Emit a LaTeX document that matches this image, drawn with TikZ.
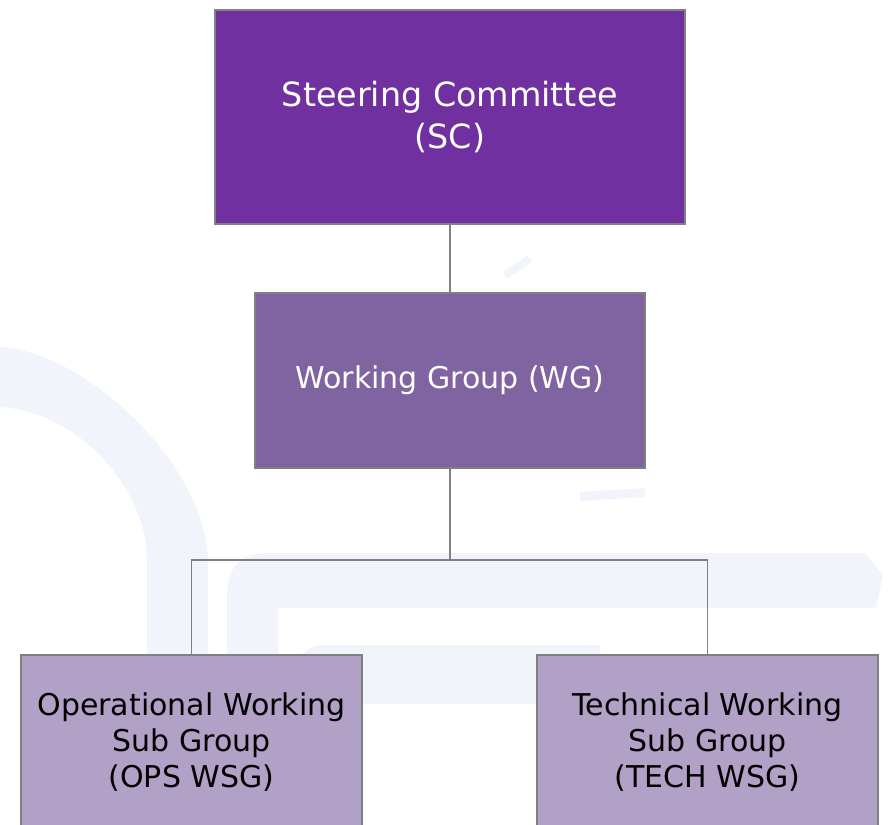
\documentclass[tikz,border=0pt]{standalone}
\usepackage{fontspec}
\setmainfont{DejaVu Sans}
\definecolor{scpurple}{HTML}{7030A0}
\definecolor{wgpurple}{HTML}{8064A2}
\definecolor{wsglilac}{HTML}{B2A1C7}
\definecolor{edgegray}{HTML}{808080}
\definecolor{markwash}{RGB}{242,244,252}
\begin{document}
\begin{tikzpicture}[x=0.75pt, y=-0.75pt,
  orgbox/.style={draw=edgegray, line width=1.2pt, align=center, inner sep=0pt},
  toplevel/.style={orgbox, fill=scpurple, text=white, minimum width=352.5pt, minimum height=160.5pt, font=\fontsize{25}{31.5}\selectfont},
  midlevel/.style={orgbox, fill=wgpurple, text=white, minimum width=292.5pt, minimum height=131.25pt, font=\fontsize{22.5}{27}\selectfont},
  sublevel/.style={orgbox, fill=wsglilac, text=black, minimum width=255.75pt, minimum height=131.25pt, font=\fontsize{22.5}{27}\selectfont},
  link/.style={draw=edgegray, line width=1.2pt}]
\useasboundingbox (0,0) rectangle (888,824);
% faint watermark behind the chart
\fill[markwash] (0,347) .. controls (80,350) and (205,460) .. (208,560) -- (208,660) -- (147,660) -- (147,560) .. controls (147,490) and (80,412) .. (0,407) -- cycle;
\fill[markwash] (227,660) -- (227,600) .. controls (227,565) and (240,553) .. (270,553) -- (865,553) -- (883,575) -- (876,608) -- (278,608) -- (278,660) -- cycle;
\fill[markwash] (300,704) -- (300,665) .. controls (300,652) and (310,645) .. (325,645) -- (600,645) -- (600,704) -- cycle;
\fill[markwash] (503,272) -- (528,255) -- (532,262) -- (507,279) -- cycle;
\fill[markwash] (580,492) -- (645,488) -- (645,497) -- (580,501) -- cycle;

\node[toplevel] (sc) at (450,117) {Steering Committee\\(SC)};
\node[midlevel] (wg) at (450,380.5) {Working Group (WG)};
\node[sublevel] (ops) at (191.5,742.5) {Operational Working\\Sub Group\\(OPS WSG)};
\node[sublevel] (tech) at (707.5,742.5) {Technical Working\\Sub Group\\(TECH WSG)};
\coordinate (bus) at (450,560);
\draw[link] (sc) -- (wg);
\draw[link] (wg) -- (bus);
\draw[link] (ops) |- (bus) -| (tech);

\end{tikzpicture}
\end{document}
